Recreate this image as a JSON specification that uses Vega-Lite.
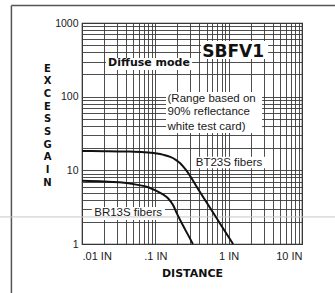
{
  "$schema": "https://vega.github.io/schema/vega-lite/v6.json",
  "width": 220,
  "height": 221,
  "autosize": {"type": "none"},
  "padding": {"left": 82, "top": 23, "right": 33, "bottom": 49},
  "background": "white",
  "config": {"view": {"stroke": "#222", "strokeWidth": 1.2}, "font": "Liberation Sans"},
  "encoding": {
    "x": {
      "field": "d", "type": "quantitative",
      "scale": {"type": "log", "domain": [0.01, 10], "nice": false},
      "axis": {
        "values": [0.01, 0.02, 0.03, 0.04, 0.05, 0.06, 0.07, 0.08, 0.09, 0.1, 0.2, 0.3, 0.4, 0.5, 0.6, 0.7, 0.8, 0.9, 1, 2, 3, 4, 5, 6, 7, 8, 9, 10],
        "labelExpr": "datum.value == 0.01 ? '.01 IN' : datum.value == 0.1 ? '.1 IN' : datum.value == 1 ? '1 IN' : datum.value == 10 ? '10 IN' : ''",
        "grid": true, "gridColor": "#3a3a3a", "gridWidth": 0.9,
        "ticks": false, "domain": false, "labelFlush": true, "labelOverlap": false,
        "labelFont": "Liberation Sans", "labelFontSize": 11, "labelColor": "#1a1a1a", "labelPadding": 6,
        "title": "DISTANCE", "titleFont": "DejaVu Sans", "titleFontWeight": "bold", "titleFontSize": 11,
        "titleColor": "#111", "titlePadding": 6
      }
    },
    "y": {
      "field": "g", "type": "quantitative",
      "scale": {"type": "log", "domain": [1, 1000], "nice": false},
      "axis": {
        "values": [1, 2, 3, 4, 5, 6, 7, 8, 9, 10, 20, 30, 40, 50, 60, 70, 80, 90, 100, 200, 300, 400, 500, 600, 700, 800, 900, 1000],
        "labelExpr": "datum.value == 1 ? '1' : datum.value == 10 ? '10' : datum.value == 100 ? '100' : datum.value == 1000 ? '1000' : ''",
        "grid": true, "gridColor": "#3a3a3a", "gridWidth": 0.9,
        "ticks": false, "domain": false, "labelOverlap": false,
        "labelFont": "Liberation Sans", "labelFontSize": 10.5, "labelColor": "#1a1a1a", "labelPadding": 4,
        "title": ["E", "X", "C", "E", "S", "S", "\u00a0", "G", "A", "I", "N"],
        "titleAngle": 0, "titleAlign": "center", "titleBaseline": "middle",
        "titleX": -35, "titleY": 45, "titleLineHeight": 12.7,
        "titleFont": "DejaVu Sans", "titleFontWeight": "bold", "titleFontSize": 10, "titleColor": "#111"
      }
    }
  },
  "layer": [
    {
      "data": {"values": [{"d": 0.00109, "g": 1727, "g2": 0.1}]},
      "mark": {"type": "rule", "color": "#555", "strokeWidth": 1.5, "clip": false},
      "encoding": {"y2": {"field": "g2"}}
    },
    {
      "data": {"values": [{"d": 0.00109, "d2": 40, "g": 1727}]},
      "mark": {"type": "rule", "color": "#555", "strokeWidth": 1.5, "clip": false},
      "encoding": {"x2": {"field": "d2"}}
    },
    {
      "data": {"values": [
        {"d": 0.42, "d2": 3.45, "g": 325, "g2": 570},
        {"d": 0.0212, "d2": 0.317, "g": 230, "g2": 335},
        {"d": 0.14, "d2": 2.86, "g": 32.2, "g2": 116},
        {"d": 0.327, "d2": 3.14, "g": 10.7, "g2": 15.3},
        {"d": 0.0136, "d2": 0.1355, "g": 2.12, "g2": 3.19}
      ]},
      "mark": {"type": "rect", "fill": "white"},
      "encoding": {"x2": {"field": "d2"}, "y2": {"field": "g2"}}
    },
    {
      "data": {"values": [{"d": 0.0007, "d2": 40, "g": 2.33}]},
      "mark": {"type": "rule", "color": "#c8c8c8", "strokeWidth": 1, "clip": false},
      "encoding": {"x2": {"field": "d2"}}
    },
    {
      "data": {"values": [
        {"series": "BT23S", "d": 0.01, "g": 18.3},
        {"series": "BT23S", "d": 0.02, "g": 18.2},
        {"series": "BT23S", "d": 0.04, "g": 18.0},
        {"series": "BT23S", "d": 0.07, "g": 17.6},
        {"series": "BT23S", "d": 0.1, "g": 17.0},
        {"series": "BT23S", "d": 0.13, "g": 16.2},
        {"series": "BT23S", "d": 0.16, "g": 15.2},
        {"series": "BT23S", "d": 0.19, "g": 13.9},
        {"series": "BT23S", "d": 0.22, "g": 12.4},
        {"series": "BT23S", "d": 0.26, "g": 10.2},
        {"series": "BT23S", "d": 0.4, "g": 5.2},
        {"series": "BT23S", "d": 0.6, "g": 2.76},
        {"series": "BT23S", "d": 0.8, "g": 1.76},
        {"series": "BT23S", "d": 1.15, "g": 1.0},
        {"series": "BR13S", "d": 0.01, "g": 7.2},
        {"series": "BR13S", "d": 0.02, "g": 7.05},
        {"series": "BR13S", "d": 0.035, "g": 6.85},
        {"series": "BR13S", "d": 0.055, "g": 6.4},
        {"series": "BR13S", "d": 0.08, "g": 5.9},
        {"series": "BR13S", "d": 0.1, "g": 5.35},
        {"series": "BR13S", "d": 0.125, "g": 4.75},
        {"series": "BR13S", "d": 0.15, "g": 4.15},
        {"series": "BR13S", "d": 0.175, "g": 3.35},
        {"series": "BR13S", "d": 0.195, "g": 2.65},
        {"series": "BR13S", "d": 0.25, "g": 1.63},
        {"series": "BR13S", "d": 0.29, "g": 1.24},
        {"series": "BR13S", "d": 0.325, "g": 1.0}
      ]},
      "mark": {"type": "line", "color": "#111", "strokeWidth": 2, "interpolate": "monotone"},
      "encoding": {"detail": {"field": "series"}}
    },
    {
      "data": {"values": [{"d": 1.15, "g": 404, "t": "SBFV1"}]},
      "mark": {"type": "text", "font": "DejaVu Sans", "fontWeight": "bold", "fontSize": 17, "align": "center", "baseline": "middle", "color": "#111"},
      "encoding": {"text": {"field": "t"}}
    },
    {
      "data": {"values": [{"d": 0.082, "g": 286, "t": "Diffuse mode"}]},
      "mark": {"type": "text", "font": "DejaVu Sans", "fontWeight": "bold", "fontSize": 11, "align": "center", "baseline": "middle", "color": "#111"},
      "encoding": {"text": {"field": "t"}}
    },
    {
      "data": {"values": [
        {"d": 0.1466, "g": 93.1, "t": "(Range based on"},
        {"d": 0.1466, "g": 62.5, "t": "90% reflectance"},
        {"d": 0.1466, "g": 39.2, "t": "white test card)"}
      ]},
      "mark": {"type": "text", "font": "Liberation Sans", "fontSize": 11.5, "align": "left", "baseline": "middle", "color": "#1a1a1a"},
      "encoding": {"text": {"field": "t"}}
    },
    {
      "data": {"values": [
        {"d": 1.01, "g": 12.7, "t": "BT23S fibers"},
        {"d": 0.0425, "g": 2.62, "t": "BR13S fibers"}
      ]},
      "mark": {"type": "text", "font": "Liberation Sans", "fontSize": 11.5, "align": "center", "baseline": "middle", "color": "#1a1a1a"},
      "encoding": {"text": {"field": "t"}}
    }
  ]
}
